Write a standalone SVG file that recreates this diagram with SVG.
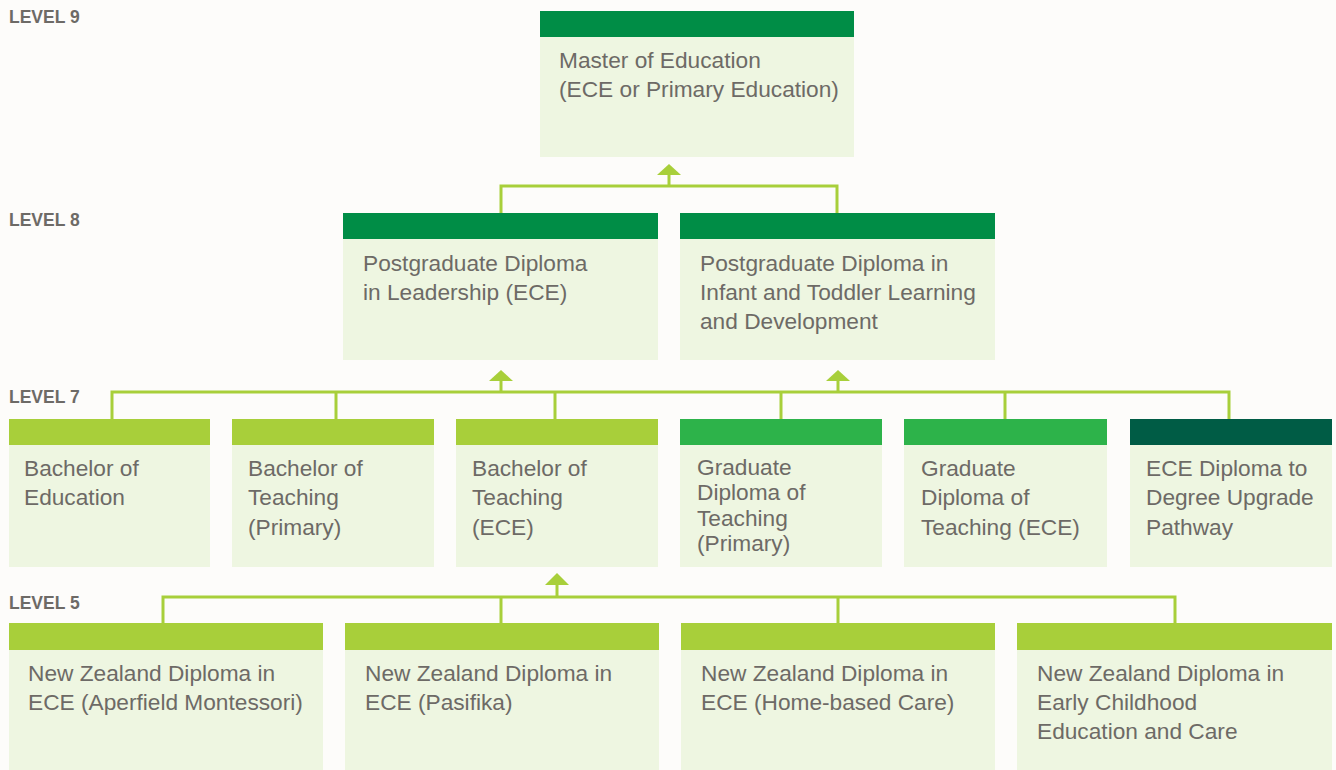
<svg xmlns="http://www.w3.org/2000/svg" width="1336" height="770" viewBox="0 0 1336 770">
<defs>
<style>
.bg{fill:#fdfcfa}
.body{fill:#eef6e1}
.h-dark{fill:#008d46}
.h-lime{fill:#a8cf3a}
.h-mid{fill:#2db34a}
.h-deep{fill:#005c45}
.lvl{font-family:"Liberation Sans",Arial,sans-serif;font-weight:bold;font-size:17.5px;fill:#6d6a66}
.t{font-family:"Liberation Sans",Arial,sans-serif;font-size:22.7px;fill:#6d6a66}
.c{fill:none;stroke:#a8cf3a;stroke-width:3}
.ah{fill:#a8cf3a}
</style>
</defs>
<rect class="bg" x="0" y="0" width="1336" height="770"/>
<g id="level-labels">
<text class="lvl" x="9" y="23">LEVEL 9</text>
<text class="lvl" x="9" y="226">LEVEL 8</text>
<text class="lvl" x="9" y="403">LEVEL 7</text>
<text class="lvl" x="9" y="609">LEVEL 5</text>
</g>
<g id="connectors">
<path class="c" d="M501,213 V186 H837 V213 M669,186 V172"/>
<polygon class="ah" points="657,175 669,164 681,175"/>
<path class="c" d="M112,419 V392 H1229 V419 M336,392 V419 M555,392 V419 M781,392 V419 M1005,392 V419 M501,392 V378 M838,392 V378"/>
<polygon class="ah" points="489,381 501,370 513,381"/>
<polygon class="ah" points="826,381 838,370 850,381"/>
<path class="c" d="M163,624 V597 H1175 V624 M501,597 V624 M838,597 V624 M557,597 V582"/>
<polygon class="ah" points="545,585 557,573 569,585"/>
</g>
<g id="master-education">
<rect class="body" x="540" y="11" width="314" height="146"/>
<rect class="h-dark" x="540" y="11" width="314" height="26"/>
<text class="t" x="559" y="68">Master of Education</text>
<text class="t" x="559" y="97">(ECE or Primary Education)</text>
</g>
<g id="pgdip-leadership">
<rect class="body" x="343" y="213" width="315" height="147"/>
<rect class="h-dark" x="343" y="213" width="315" height="26"/>
<text class="t" x="363" y="271">Postgraduate Diploma</text>
<text class="t" x="363" y="300">in Leadership (ECE)</text>
</g>
<g id="pgdip-infant">
<rect class="body" x="680" y="213" width="315" height="147"/>
<rect class="h-dark" x="680" y="213" width="315" height="26"/>
<text class="t" x="700" y="271">Postgraduate Diploma in</text>
<text class="t" x="700" y="300">Infant and Toddler Learning</text>
<text class="t" x="700" y="329">and Development</text>
</g>
<g id="bachelor-education">
<rect class="body" x="9" y="419" width="201" height="148"/>
<rect class="h-lime" x="9" y="419" width="201" height="26"/>
<text class="t" x="24" y="476">Bachelor of</text>
<text class="t" x="24" y="505">Education</text>
</g>
<g id="bachelor-teaching-primary">
<rect class="body" x="232" y="419" width="202" height="148"/>
<rect class="h-lime" x="232" y="419" width="202" height="26"/>
<text class="t" x="248" y="476">Bachelor of</text>
<text class="t" x="248" y="505">Teaching</text>
<text class="t" x="248" y="535">(Primary)</text>
</g>
<g id="bachelor-teaching-ece">
<rect class="body" x="456" y="419" width="202" height="148"/>
<rect class="h-lime" x="456" y="419" width="202" height="26"/>
<text class="t" x="472" y="476">Bachelor of</text>
<text class="t" x="472" y="505">Teaching</text>
<text class="t" x="472" y="535">(ECE)</text>
</g>
<g id="graddip-primary">
<rect class="body" x="680" y="419" width="202" height="148"/>
<rect class="h-mid" x="680" y="419" width="202" height="26"/>
<text class="t" x="697" y="475">Graduate</text>
<text class="t" x="697" y="500">Diploma of</text>
<text class="t" x="697" y="526">Teaching</text>
<text class="t" x="697" y="551">(Primary)</text>
</g>
<g id="graddip-ece">
<rect class="body" x="904" y="419" width="203" height="148"/>
<rect class="h-mid" x="904" y="419" width="203" height="26"/>
<text class="t" x="921" y="476">Graduate</text>
<text class="t" x="921" y="505">Diploma of</text>
<text class="t" x="921" y="535">Teaching (ECE)</text>
</g>
<g id="ece-upgrade">
<rect class="body" x="1130" y="419" width="202" height="148"/>
<rect class="h-deep" x="1130" y="419" width="202" height="26"/>
<text class="t" x="1146" y="476">ECE Diploma to</text>
<text class="t" x="1146" y="505">Degree Upgrade</text>
<text class="t" x="1146" y="535">Pathway</text>
</g>
<g id="nzdip-montessori">
<rect class="body" x="9" y="623" width="314" height="147"/>
<rect class="h-lime" x="9" y="623" width="314" height="27"/>
<text class="t" x="28" y="681">New Zealand Diploma in</text>
<text class="t" x="28" y="710">ECE (Aperfield Montessori)</text>
</g>
<g id="nzdip-pasifika">
<rect class="body" x="345" y="623" width="314" height="147"/>
<rect class="h-lime" x="345" y="623" width="314" height="27"/>
<text class="t" x="365" y="681">New Zealand Diploma in</text>
<text class="t" x="365" y="710">ECE (Pasifika)</text>
</g>
<g id="nzdip-homebased">
<rect class="body" x="681" y="623" width="314" height="147"/>
<rect class="h-lime" x="681" y="623" width="314" height="27"/>
<text class="t" x="701" y="681">New Zealand Diploma in</text>
<text class="t" x="701" y="710">ECE (Home-based Care)</text>
</g>
<g id="nzdip-ecec">
<rect class="body" x="1017" y="623" width="315" height="147"/>
<rect class="h-lime" x="1017" y="623" width="315" height="27"/>
<text class="t" x="1037" y="681">New Zealand Diploma in</text>
<text class="t" x="1037" y="710">Early Childhood</text>
<text class="t" x="1037" y="739">Education and Care</text>
</g>
</svg>
